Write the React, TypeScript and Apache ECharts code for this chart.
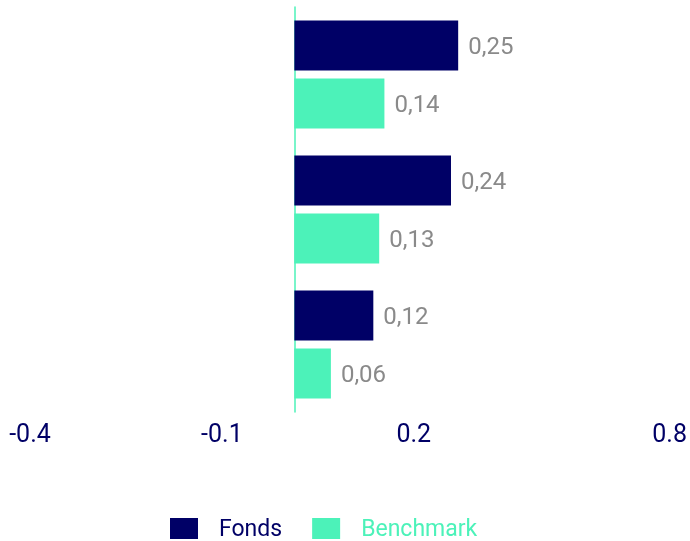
import React, { useEffect, useRef } from "react";
import * as echarts from "echarts";

const categories = ["Periode 1", "Periode 2", "Periode 3"];
const fondsValues = [0.251, 0.24, 0.121];
const benchmarkValues = [0.138, 0.13, 0.056];
// tick label slots along the bottom axis (empty slots carry no label)
const tickLabels = ["-0.4", "", "", "-0.1", "", "", "0.2", "", "", "", "0.8"];

const NAVY = "#000066";
const TEAL = "#4cf2b9";
const FONT = "Roboto";

export default function App() {
  const ref = useRef<HTMLDivElement>(null);
  useEffect(() => {
    if (!ref.current) return;
    const chart = echarts.init(ref.current, null, { renderer: "svg" });
    const fmt = (p: any) => Number(p.value).toFixed(2).replace(".", ",");
    const barLabel = {
      show: true,
      position: "right",
      distance: 10,
      color: "#8a8a8a",
      fontSize: 24,
      fontFamily: FONT,
      formatter: fmt,
    };
    chart.setOption({
      animation: false,
      textStyle: { fontFamily: FONT },
      grid: { left: 30, right: 20, top: 7, bottom: 129, containLabel: false },
      xAxis: [
        {
          type: "value",
          min: -0.405,
          max: 0.575,
          show: false,
        },
        {
          type: "category",
          data: tickLabels,
          boundaryGap: false,
          position: "bottom",
          axisLine: { show: false },
          axisTick: { show: false },
          splitLine: { show: false },
          axisLabel: {
            interval: 0,
            color: NAVY,
            fontSize: 25,
            fontFamily: FONT,
            margin: 9,
          },
        },
      ],
      yAxis: {
        type: "category",
        data: categories,
        inverse: true,
        axisLine: {
          show: true,
          onZero: true,
          onZeroAxisIndex: 0,
          lineStyle: { color: TEAL, width: 1.5 },
        },
        axisTick: { show: false },
        axisLabel: { show: false },
        splitLine: { show: false },
      },
      legend: {
        left: 170,
        top: 517,
        padding: 0,
        itemWidth: 28,
        itemHeight: 21,
        itemGap: 30,
        icon: "rect",
        textStyle: {
          fontSize: 23,
          lineHeight: 21,
          fontFamily: FONT,
          padding: [0, 0, 0, 16],
        },
        data: [
          { name: "Fonds", textStyle: { color: NAVY } },
          { name: "Benchmark", textStyle: { color: TEAL } },
        ],
      },
      series: [
        {
          name: "Fonds",
          type: "bar",
          xAxisIndex: 0,
          data: fondsValues,
          barWidth: 50,
          barGap: "16%",
          itemStyle: { color: NAVY },
          label: barLabel,
        },
        {
          name: "Benchmark",
          type: "bar",
          xAxisIndex: 0,
          data: benchmarkValues,
          barWidth: 50,
          itemStyle: { color: TEAL },
          label: barLabel,
        },
      ],
    });
    return () => chart.dispose();
  }, []);
  return (
    <div
      ref={ref}
      style={{ position: "fixed", left: 0, top: 0, width: 690, height: 541 }}
    />
  );
}
